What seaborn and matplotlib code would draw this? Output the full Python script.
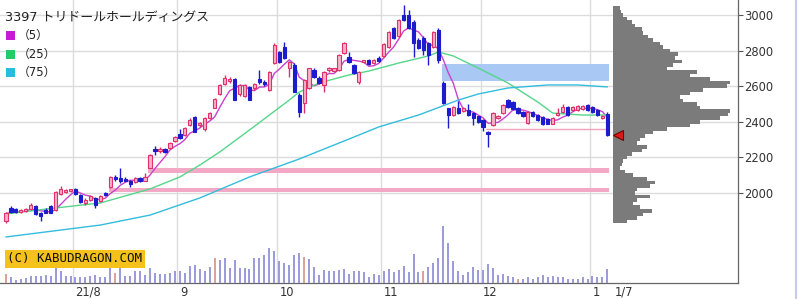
import numpy as np
import pandas as pd
import matplotlib
matplotlib.use("Agg")
import matplotlib.pyplot as plt
import matplotlib.transforms as mtransforms
from matplotlib.patches import Rectangle
from matplotlib.lines import Line2D
import seaborn as sns

# ---------------- data ----------------
title = "3397 トリドールホールディングス"
ma_labels = ["（5）", "（25）", "（75）"]
month_labels = ["21/8", "9", "10", "11", "12", "1"]
month_start_idx = [14, 35, 55, 76, 96, 118]
last_label = "1/7"
price_ticks = [2000, 2200, 2400, 2600, 2800, 3000]

opens = [1840,1915,1910,1895,1900,1910,1925,1890,1905,1925,
         1905,1995,2005,2010,2025,1990,1945,1960,1970,1955,
         2000,2035,2090,2085,2080,2070,2060,2085,2070,2140,
         2250,2235,2245,2255,2290,2330,2325,2380,2425,2380,
         2360,2420,2480,2555,2610,2630,2640,2555,2545,2595,
         2590,2640,2625,2580,2730,2790,2820,2705,2720,2550,
         2505,2590,2690,2645,2605,2690,2685,2690,2785,2765,
         2720,2625,2735,2745,2730,2760,2770,2820,2925,2880,
         3000,3000,2960,2860,2870,2845,2820,2915,2620,2475,
         2440,2480,2460,2465,2450,2430,2410,2345,2380,2420,
         2450,2525,2510,2480,2455,2395,2455,2440,2425,2415,
         2390,2440,2455,2485,2465,2465,2470,2495,2485,2465,
         2420,2445]
highs = [1895,1925,1915,1910,1915,1945,1930,1895,1915,1935,
         2010,2040,2020,2025,2030,1995,1970,1990,1975,1990,
         2005,2095,2100,2140,2090,2075,2090,2090,2110,2220,
         2265,2260,2255,2285,2320,2360,2370,2420,2430,2400,
         2425,2455,2535,2610,2665,2650,2645,2610,2610,2600,
         2620,2690,2635,2685,2840,2800,2850,2740,2730,2560,
         2640,2705,2700,2655,2685,2710,2705,2780,2850,2790,
         2725,2685,2750,2755,2755,2770,2840,2910,2935,2975,
         3055,3030,2970,2870,2880,2850,2910,2925,2630,2480,
         2490,2515,2485,2500,2455,2435,2415,2350,2455,2440,
         2500,2530,2515,2485,2460,2460,2460,2445,2430,2420,
         2425,2480,2500,2490,2490,2495,2495,2500,2490,2470,
         2440,2455]
lows = [1830,1890,1890,1890,1895,1905,1875,1845,1885,1885,
        1900,1990,2000,2005,1990,1945,1935,1955,1915,1950,
        1985,2030,2070,2055,2065,2032,2055,2060,2065,2140,
        2215,2225,2225,2250,2285,2305,2320,2375,2340,2370,
        2350,2415,2475,2550,2605,2620,2520,2545,2540,2520,
        2580,2615,2600,2575,2725,2730,2755,2650,2565,2425,
        2450,2585,2645,2610,2565,2680,2680,2685,2780,2730,
        2670,2615,2730,2720,2725,2735,2765,2815,2865,2875,
        2965,2920,2765,2810,2775,2720,2815,2730,2500,2365,
        2435,2445,2455,2435,2380,2395,2350,2260,2375,2415,
        2445,2480,2465,2445,2425,2390,2425,2405,2380,2385,
        2385,2435,2450,2435,2460,2460,2465,2460,2450,2435,
        2415,2320]
closes = [1885,1895,1895,1905,1910,1935,1880,1870,1890,1890,
          2005,2020,2015,2020,1995,1950,1960,1985,1935,1985,
          1990,2090,2080,2070,2070,2050,2085,2065,2090,2215,
          2235,2250,2230,2280,2315,2310,2365,2410,2345,2395,
          2420,2450,2530,2605,2645,2640,2525,2605,2605,2525,
          2615,2625,2610,2680,2830,2735,2760,2735,2570,2455,
          2635,2700,2650,2620,2680,2705,2700,2775,2840,2735,
          2675,2680,2745,2725,2750,2740,2835,2905,2870,2970,
          2970,2925,2845,2815,2805,2775,2905,2750,2505,2440,
          2485,2450,2480,2440,2420,2400,2370,2330,2450,2435,
          2495,2485,2470,2450,2430,2455,2430,2410,2385,2390,
          2420,2450,2485,2440,2485,2490,2490,2465,2455,2440,
          2435,2325]
volumes = [180,120,60,80,100,140,140,140,160,140,
           300,240,140,140,120,120,120,140,160,120,
           120,340,200,300,140,140,240,240,160,300,
           200,180,180,200,240,240,200,340,360,280,
           240,320,500,460,500,300,460,300,300,280,
           500,500,560,700,640,440,400,360,560,600,
           520,480,320,160,260,240,240,260,280,180,
           240,240,220,120,180,160,240,280,220,260,
           340,220,580,220,240,320,400,500,1140,800,
           440,240,160,220,320,260,260,380,300,160,
           180,140,120,80,80,120,80,120,160,120,
           140,120,120,80,80,80,120,80,140,120,
           120,280]
marked_volume_days = [0, 22, 42, 60, 84, 103]

ma25_idx = [0,10,19,29,35,39,43,49,53,57,59,63,69,73,79,85,87,90,95,101,107,110,116,121]
ma25_val = [1882,1916,1944,2023,2090,2157,2230,2354,2438,2522,2567,2618,2663,2685,2730,
            2770,2792,2770,2702,2618,2511,2449,2438,2438]
ma75_idx = [0,19,29,39,49,59,69,75,83,91,95,101,109,115,121]
ma75_val = [1753,1820,1876,1972,2090,2191,2303,2371,2438,2522,2556,2590,2607,2607,2596]

gap_start = [21, 29, 88]
gap_low = [2008, 2112, 2630]
gap_high = [2030, 2140, 2725]
support_start = 97
support_price = 2360

prof_price = [3040,3020,3000,2980,2960,2940,2920,2900,2880,2860,
              2840,2820,2800,2780,2760,2740,2720,2700,2680,2660,
              2640,2620,2600,2580,2560,2540,2520,2500,2480,2460,
              2440,2420,2400,2380,2360,2340,2320,2300,2280,2260,
              2240,2220,2200,2180,2160,2140,2120,2100,2080,2060,
              2040,2020,2000,1980,1960,1940,1920,1900,1880,1860,
              1840]
prof_vol = [7,8,10,14,19,22,29,30,35,40,
            47,50,57,65,62,69,60,54,84,77,
            97,117,114,90,77,67,70,84,87,117,
            115,107,87,77,54,40,32,27,24,34,
            29,19,14,10,9,7,12,20,34,42,
            37,24,22,37,24,20,27,39,30,24,
            14]

# ---------------- styling ----------------
sns.set_theme(style="white")
plt.rcParams["font.family"] = ["DejaVu Sans", "Noto Sans CJK JP"]

W, H = 800, 299
fig = plt.figure(figsize=(W / 100, H / 100), dpi=100)
fig.patch.set_facecolor("white")

def fx(px):
    return px / W

def fy(py):
    return 1 - py / H

AX_RIGHT, AX_BOTTOM = 738, 283
X0, DX = 5.9, 4.971
ax = fig.add_axes([0, fy(AX_BOTTOM), fx(AX_RIGHT), AX_BOTTOM / H])
ax.set_facecolor("white")

o = np.array(opens, float); c = np.array(closes, float)
hi = np.array(highs, float); lo = np.array(lows, float)
idx = np.arange(len(c))
up = c >= o

# gaps / support
end = idx[-1] + 0.35
gap_cols = ["#f3a9c6", "#f3a9c6", "#a9c8f4"]
for s, gl, gh, col in zip(gap_start, gap_low, gap_high, gap_cols):
    ax.add_patch(Rectangle((s - 0.35, gl), end - (s - 0.35), gh - gl,
                           facecolor=col, edgecolor="none", zorder=1))
ax.hlines(support_price, support_start - 0.35, end, color="#f2a2be", lw=1, zorder=1)

# moving averages
ma5 = pd.Series(closes, dtype=float).rolling(5, min_periods=1).mean()
sns.lineplot(x=idx, y=ma5.values, ax=ax, color="#cc40cc", lw=1, zorder=2)
sns.lineplot(x=ma25_idx, y=ma25_val, ax=ax, color="#55d68a", lw=1, zorder=2)
sns.lineplot(x=ma75_idx, y=ma75_val, ax=ax, color="#33bddd", lw=1, zorder=2)

# candles
UP_EDGE, UP_FILL, DOWN = "#e0306a", "#f7b2ca", "#1c1ccc"
ax.vlines(idx[up], lo[up], hi[up], color=UP_EDGE, lw=1, zorder=3)
ax.vlines(idx[~up], lo[~up], hi[~up], color=DOWN, lw=1, zorder=3)
ax.bar(idx[up], (c - o)[up], bottom=o[up], width=0.66, color=UP_FILL,
       edgecolor=UP_EDGE, lw=0.8, zorder=4)
ax.bar(idx[~up], (o - c)[~up], bottom=c[~up], width=0.66, color=DOWN,
       edgecolor=DOWN, lw=0.8, zorder=4)

ax.set_xlim(-X0 / DX, (AX_RIGHT - X0) / DX)
ax.set_ylim(1494.4, 3084.3)

# volume
axv = ax.twinx()
axv.set_ylim(0, 5660)
vcols = ["#dba096" if i in marked_volume_days else "#9a9adb" for i in idx]
axv.vlines(idx, 0, volumes, colors=vcols, lw=1.4, zorder=2)
axv.set_axis_off()
axv.set_xlim(ax.get_xlim())

# axes formatting
ax.set_yticks(price_ticks)
ax.set_yticklabels([str(p) for p in price_ticks])
ax.set_xticks(np.array(month_start_idx) - 0.5)
ax.set_xticklabels([])
ax.yaxis.tick_right()
ax.tick_params(axis="x", length=0, labelbottom=False)
ax.tick_params(axis="y", right=True, left=False, labelright=True, labelleft=False,
               length=3.5, width=0.8, color="#555555", pad=1, labelsize=8.3,
               labelcolor="#333333")
ax.grid(True, color="#dcdcdc", lw=1)
ax.set_axisbelow(True)
for side in ["top", "left"]:
    ax.spines[side].set_visible(False)
for side in ["right", "bottom"]:
    ax.spines[side].set_visible(True)
    ax.spines[side].set_color("#666666")
    ax.spines[side].set_linewidth(0.9)
ax.set_xlabel(""); ax.set_ylabel("")

trans = mtransforms.blended_transform_factory(ax.transData, ax.transAxes)
ylab = -(292 - AX_BOTTOM) / AX_BOTTOM
for m, lab in zip(month_start_idx, month_labels):
    ax.text(m, ylab, lab, transform=trans, ha="left", va="center",
            fontsize=8.3, color="#333333", clip_on=False)
ax.text(idx[-1] + 1.5, ylab, last_label, transform=trans, ha="left", va="center",
        fontsize=8.3, color="#333333", clip_on=False)

# volume profile
axp = fig.add_axes([fx(613), fy(AX_BOTTOM), fx(AX_RIGHT - 613), AX_BOTTOM / H])
axp.set_ylim(ax.get_ylim())
axp.set_xlim(0, AX_RIGHT - 613)
axp.barh(prof_price, prof_vol, height=20, color="#7b7b7b", align="center", lw=0)
axp.plot([4.5], [closes[-1]], marker="<", ms=7, color="#e01818", mec="#700000",
         mew=0.8, clip_on=False, zorder=6)
axp.set_axis_off()
axp.set_zorder(5)
axp.patch.set_alpha(0)

# title and legend
fig.text(fx(5), fy(17), title, fontsize=9.3, ha="left", va="center", color="#222222")
leg_cols = ["#c41cd2", "#22cc66", "#22c0de"]
for k, (lab, col) in enumerate(zip(ma_labels, leg_cols)):
    yc = [35.5, 54, 72.5][k]
    fig.patches.append(Rectangle((fx(6), fy(yc + 4.5)), fx(9), 9 / H,
                                 transform=fig.transFigure, facecolor=col,
                                 edgecolor="none"))
    fig.text(fx(18), fy(yc), lab, fontsize=8.5, ha="left", va="center", color="#222222")

fig.text(fx(7), fy(258.5), "(C) KABUDRAGON.COM", family="DejaVu Sans Mono",
         fontsize=9, ha="left", va="center", color="#111111",
         bbox=dict(boxstyle="square,pad=0.2", fc="#f4c21a", ec="none"))

fig.add_artist(Line2D([fx(795.5)] * 2, [0, 1], transform=fig.transFigure,
                      color="#c9c9ee", lw=1.5))

fig.savefig("out.png", dpi=100, facecolor="white")
